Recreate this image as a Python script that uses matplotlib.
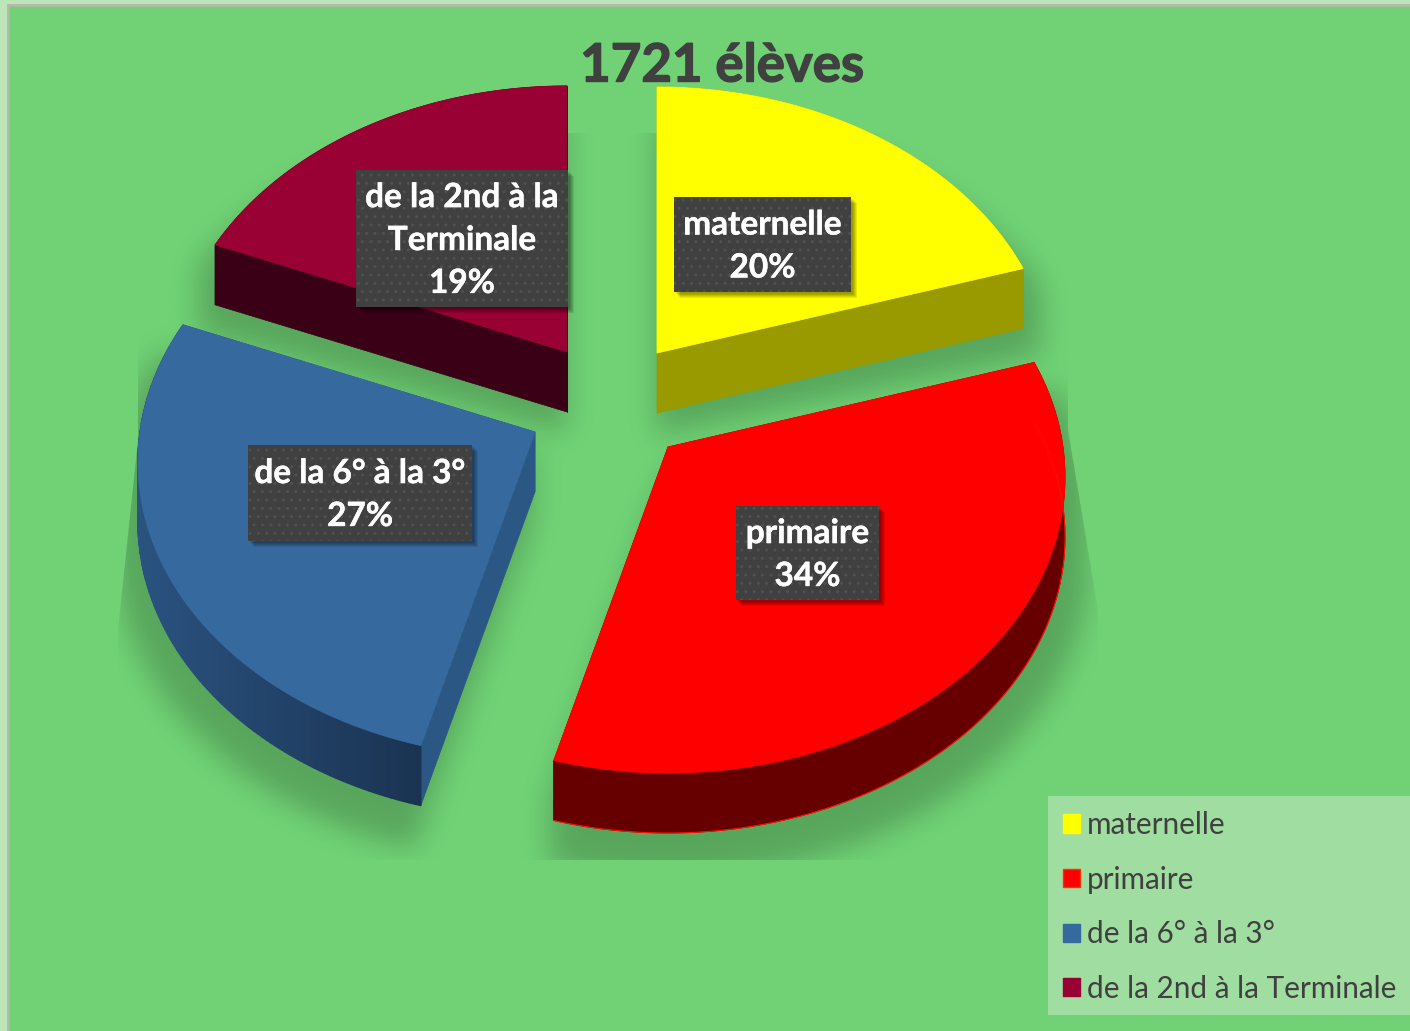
import numpy as np
import matplotlib
matplotlib.use('Agg')
import matplotlib.pyplot as plt
import matplotlib.patches as patches
import matplotlib.patheffects as pe
from matplotlib.path import Path

# Valeurs du graphique
categories = ['maternelle', 'primaire', 'de la 6° à la 3°', 'de la 2nd à la Terminale']
valeurs = [20.2, 34.0, 27.0, 18.8]
titre = '1721 élèves'
textes_etiquettes = ['maternelle', 'primaire', 'de la 6° à la 3°', 'de la 2nd à la\nTerminale']

couleurs = ['#FFFF00', '#FF0000', '#366A9F', '#990033']
couleurs_cote = ['#999900', '#660000', '#2B5785', '#3A0015']
couleurs_bord = ['#999900', '#660000', '#2A5380', '#3A0015']
couleurs_bord_fin = ['#999900', '#660000', '#1A3352', '#3A0015']

# Sommet de chaque part (pixels) et boites des etiquettes (x0, y0, x1, y1)
sommets = [(657, 353), (668, 447), (535, 432), (567, 352)]
boites = [(674, 197, 851, 292), (736, 506, 879, 600), (248, 445, 472, 541), (356, 170, 568, 307)]

RX = 395
RY = 293
K = 0.1013
EPAISSEUR = 60
FOND = '#70D275'
GRIS = '#404040'

plt.rcParams['font.family'] = ['Lato', 'DejaVu Sans']
plt.rcParams['hatch.linewidth'] = 1.0

fig = plt.figure(figsize=(14.10, 10.31), dpi=100, facecolor='#BCE6B8')
ax = fig.add_axes([0, 0, 1, 1])

ax.add_patch(patches.Rectangle((8, 5), 1500, 1100, facecolor=FOND,
                               edgecolor='#B4B8A6', linewidth=2, zorder=0))


def projeter(angles):
    # angle en degres depuis midi, sens horaire, avec un peu de perspective
    a = np.radians(angles)
    u = np.sin(a)
    v = -np.cos(a)
    d = 1 - K * v
    return RX * u / d, RY * v / d


# Construire le contour de chaque part
parts = []
depart = 0.0
total = sum(valeurs)
for i, val in enumerate(valeurs):
    fin = depart + 360.0 * val / total
    angles = np.linspace(depart, fin, 120)
    px, py = projeter(angles)
    cx, cy = sommets[i]
    arc = np.column_stack([cx + px, cy + py])
    contour = np.vstack([[cx, cy], arc])
    parts.append((contour, arc))
    depart = fin

# Ombre floue: masque des parts agrandies et decalees vers le bas, puis flou gaussien
pas = 2
gx, gy = np.meshgrid(np.arange(0, 1410, pas) + 1, np.arange(0, 1031, pas) + 1)
points = np.column_stack([gx.ravel(), gy.ravel()])
masque = np.zeros(len(points), dtype=bool)
for i, (contour, arc) in enumerate(parts):
    sommet = np.array(sommets[i], dtype=float)
    rel = contour - sommet
    # plus large vers l'avant, un peu retreci vers l'arriere
    agrandi = sommet + rel * np.column_stack([np.full(len(rel), 1.06),
                                              np.where(rel[:, 1] > 0, 1.07, 0.96)])
    for dec in range(0, EPAISSEUR + 1, 15):
        masque |= Path(agrandi + [0, dec + 22]).contains_points(points)
masque = masque.reshape(gx.shape).astype(float)

sigma = 7
xk = np.arange(-3 * sigma, 3 * sigma + 1)
noyau = np.exp(-xk ** 2 / (2.0 * sigma ** 2))
noyau = noyau / noyau.sum()
flou = np.apply_along_axis(lambda m: np.convolve(m, noyau, mode='same'), 0, masque)
flou = np.apply_along_axis(lambda m: np.convolve(m, noyau, mode='same'), 1, flou)

rgba = np.zeros(flou.shape + (4,))
rgba[..., 3] = 0.21 * flou
im = ax.imshow(rgba, extent=(0, 1410, 1031, 0), origin='upper', aspect='auto', zorder=1,
               interpolation='bilinear')
zone = patches.Polygon([(118, 630), (138, 440), (138, 133), (1068, 133), (1068, 430),
                        (1098, 610), (1098, 860), (118, 860)], closed=True,
                       transform=ax.transData)
im.set_clip_path(zone)

ax.set_xlim(0, 1410)
ax.set_ylim(1031, 0)
ax.axis('off')

# Parts avec leurs cotes
for i, (contour, arc) in enumerate(parts):
    z = 2 + i * 0.1
    # faces radiales
    for a, b in ((contour[0], contour[1]), (contour[-1], contour[0])):
        quad = [a, b, b + [0, EPAISSEUR], a + [0, EPAISSEUR]]
        ax.add_patch(patches.Polygon(quad, closed=True, facecolor=couleurs_cote[i],
                                     edgecolor=couleurs_cote[i], linewidth=0.5, zorder=z))
    # bord exterieur, degrade selon x si les deux couleurs different
    if couleurs_bord[i] == couleurs_bord_fin[i]:
        bande = np.vstack([arc, (arc + [0, EPAISSEUR])[::-1]])
        ax.add_patch(patches.Polygon(bande, closed=True, facecolor=couleurs_bord[i],
                                     edgecolor=couleurs_bord[i], linewidth=0.5, zorder=z + 0.01))
    else:
        c1 = np.array(matplotlib.colors.to_rgb(couleurs_bord[i]))
        c2 = np.array(matplotlib.colors.to_rgb(couleurs_bord_fin[i]))
        xmin, xmax = arc[:, 0].min(), arc[:, 0].max()
        for j in range(len(arc) - 1):
            a, b = arc[j], arc[j + 1]
            t = (a[0] - xmin) / (xmax - xmin)
            col = c1 + (c2 - c1) * t
            quad = [a, b, b + [0, EPAISSEUR], a + [0, EPAISSEUR]]
            ax.add_patch(patches.Polygon(quad, closed=True, facecolor=col, edgecolor=col,
                                         linewidth=1.0, zorder=z + 0.01))
    ax.add_patch(patches.Polygon(contour, closed=True, facecolor=couleurs[i],
                                 edgecolor=couleurs[i], linewidth=0.6, zorder=z + 0.02))
    if i == 1:
        # liseret rouge du bord inferieur
        ax.plot(arc[:, 0], arc[:, 1] + EPAISSEUR, color='#FF1000', linewidth=0.8, zorder=z + 0.03)

# Etiquettes: ombre douce, fond gris, petits points, texte
for i, val in enumerate(valeurs):
    x0, y0, x1, y1 = boites[i]
    for d in (6, 5, 4, 3, 2):
        ax.add_patch(patches.Rectangle((x0 + d, y0 + d), x1 - x0, y1 - y0, facecolor='black',
                                       edgecolor='none', alpha=0.09, zorder=4.5))
    ax.add_patch(patches.Rectangle((x0, y0), x1 - x0, y1 - y0, facecolor=GRIS,
                                   edgecolor='none', zorder=4.6))
    ax.add_patch(patches.Rectangle((x0, y0), x1 - x0, y1 - y0, facecolor='none',
                                   edgecolor='#505050', linewidth=0, hatch='..', zorder=4.7))
    ax.text((x0 + x1) / 2, (y0 + y1) / 2 + 2, f'{textes_etiquettes[i]}\n{val:.0f}%', color='white',
            fontsize=24, fontweight='bold', ha='center', va='center', linespacing=1.58, zorder=5,
            path_effects=[pe.withStroke(linewidth=0.3, foreground='white')])

ax.text(722, 66, titre, color=GRIS, fontsize=38, fontweight='bold', ha='center', va='center',
        zorder=6, path_effects=[pe.withStroke(linewidth=1.0, foreground=GRIS)])

# Legende
ax.add_patch(patches.Rectangle((1048, 796), 370, 219, facecolor='#A0DDA0',
                               edgecolor='none', zorder=6))
poignees = [patches.Patch(facecolor=c, edgecolor='#FF3000' if c == '#FF0000' else c, linewidth=1)
            for c in couleurs]
leg = ax.legend(poignees, categories, loc='upper left', bbox_to_anchor=(1063, 811),
                bbox_transform=ax.transData, frameon=False, fontsize=21.4,
                labelcolor=GRIS, handlelength=0.57, handleheight=0.57, handletextpad=0.24,
                labelspacing=0.895, borderpad=0, borderaxespad=0)
leg.set_zorder(7)

fig.savefig('out.png', dpi=100, facecolor=fig.get_facecolor())
